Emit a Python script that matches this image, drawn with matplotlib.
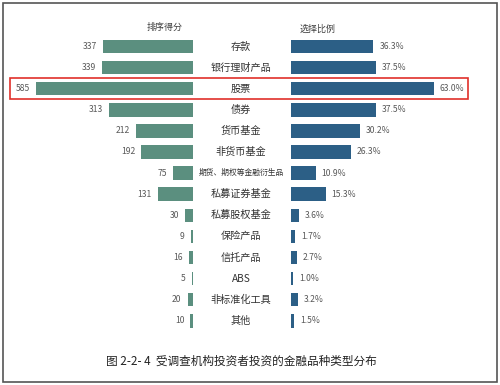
import matplotlib
matplotlib.use("Agg")
import matplotlib.pyplot as plt
from matplotlib.patches import Rectangle

plt.rcParams['font.family'] = ['Noto Sans CJK SC', 'DejaVu Sans']

categories = ["存款", "银行理财产品", "股票", "债券", "货币基金", "非货币基金",
              "期货、期权等金融衍生品", "私募证券基金", "私募股权基金", "保险产品",
              "信托产品", "ABS", "非标准化工具", "其他"]
scores = [337, 339, 585, 313, 212, 192, 75, 131, 30, 9, 16, 5, 20, 10]
ratios = [36.3, 37.5, 63.0, 37.5, 30.2, 26.3, 10.9, 15.3, 3.6, 1.7, 2.7, 1.0, 3.2, 1.5]
left_title = "排序得分"
right_title = "选择比例"
caption = "图 2-2- 4  受调查机构投资者投资的金融品种类型分布"

W, H = 500, 385
fig = plt.figure(figsize=(W / 100, H / 100), dpi=100)

def fx(px):
    return px / W

def fy(py):
    return 1 - py / H

green = "#5b8f7f"
blue = "#2c5f86"
n = len(categories)
row0, rowstep = 46.5, 21.1
top_px = row0 - rowstep / 2
bot_px = row0 + rowstep * (n - 1) + rowstep / 2

# left axes: bars grow leftwards, right edge at x=193, 585 reaches x=36
lx0, lx1 = 10, 193
axL = fig.add_axes([fx(lx0), fy(bot_px), fx(lx1 - lx0), (bot_px - top_px) / H])
scaleL = 585 / (193 - 36)
axL.set_xlim((lx1 - lx0) * scaleL, 0)
axL.set_ylim(n - 0.5, -0.5)
ypos = list(range(n))
axL.barh(ypos, scores, height=0.64, color=green)
for y, v in zip(ypos, scores):
    axL.text(v + 6 * scaleL, y, str(v), ha="right", va="center", fontsize=6.2, color="#595959")
axL.axis("off")

# right axes: bars from x=291, 63% reaches x=434
rx0, rx1 = 291, 470
axR = fig.add_axes([fx(rx0), fy(bot_px), fx(rx1 - rx0), (bot_px - top_px) / H])
scaleR = 63.0 / (434 - 291)
axR.set_xlim(0, (rx1 - rx0) * scaleR)
axR.set_ylim(n - 0.5, -0.5)
axR.barh(ypos, ratios, height=0.64, color=blue)
for y, v in zip(ypos, ratios):
    axR.text(v + 6 * scaleR, y, f"{v:.1f}%", ha="left", va="center", fontsize=6.2, color="#595959")
axR.axis("off")

# category labels
for i, c in enumerate(categories):
    fs = 5.6 if len(c) > 8 else 7.3
    fig.text(fx(241), fy(row0 + rowstep * i), c, ha="center", va="center",
             fontsize=fs, color="#333333")

fig.text(fx(165), fy(27), left_title, ha="center", va="center", fontsize=6.5, color="#404040")
fig.text(fx(318), fy(29), right_title, ha="center", va="center", fontsize=6.5, color="#404040")
fig.text(fx(241), fy(361), caption, ha="center", va="center", fontsize=8.4, color="#222222")

# red highlight box around 股票 row
fig.patches.append(Rectangle((fx(10), fy(99)), fx(468 - 10), (99 - 78) / H,
                             transform=fig.transFigure, fill=False,
                             edgecolor="#e0302a", linewidth=1.2))
# outer frame
fig.patches.append(Rectangle((fx(3), fy(382)), fx(497 - 3), (382 - 3) / H,
                             transform=fig.transFigure, fill=False,
                             edgecolor="#555555", linewidth=1.2))

fig.savefig("out.png", dpi=100)
